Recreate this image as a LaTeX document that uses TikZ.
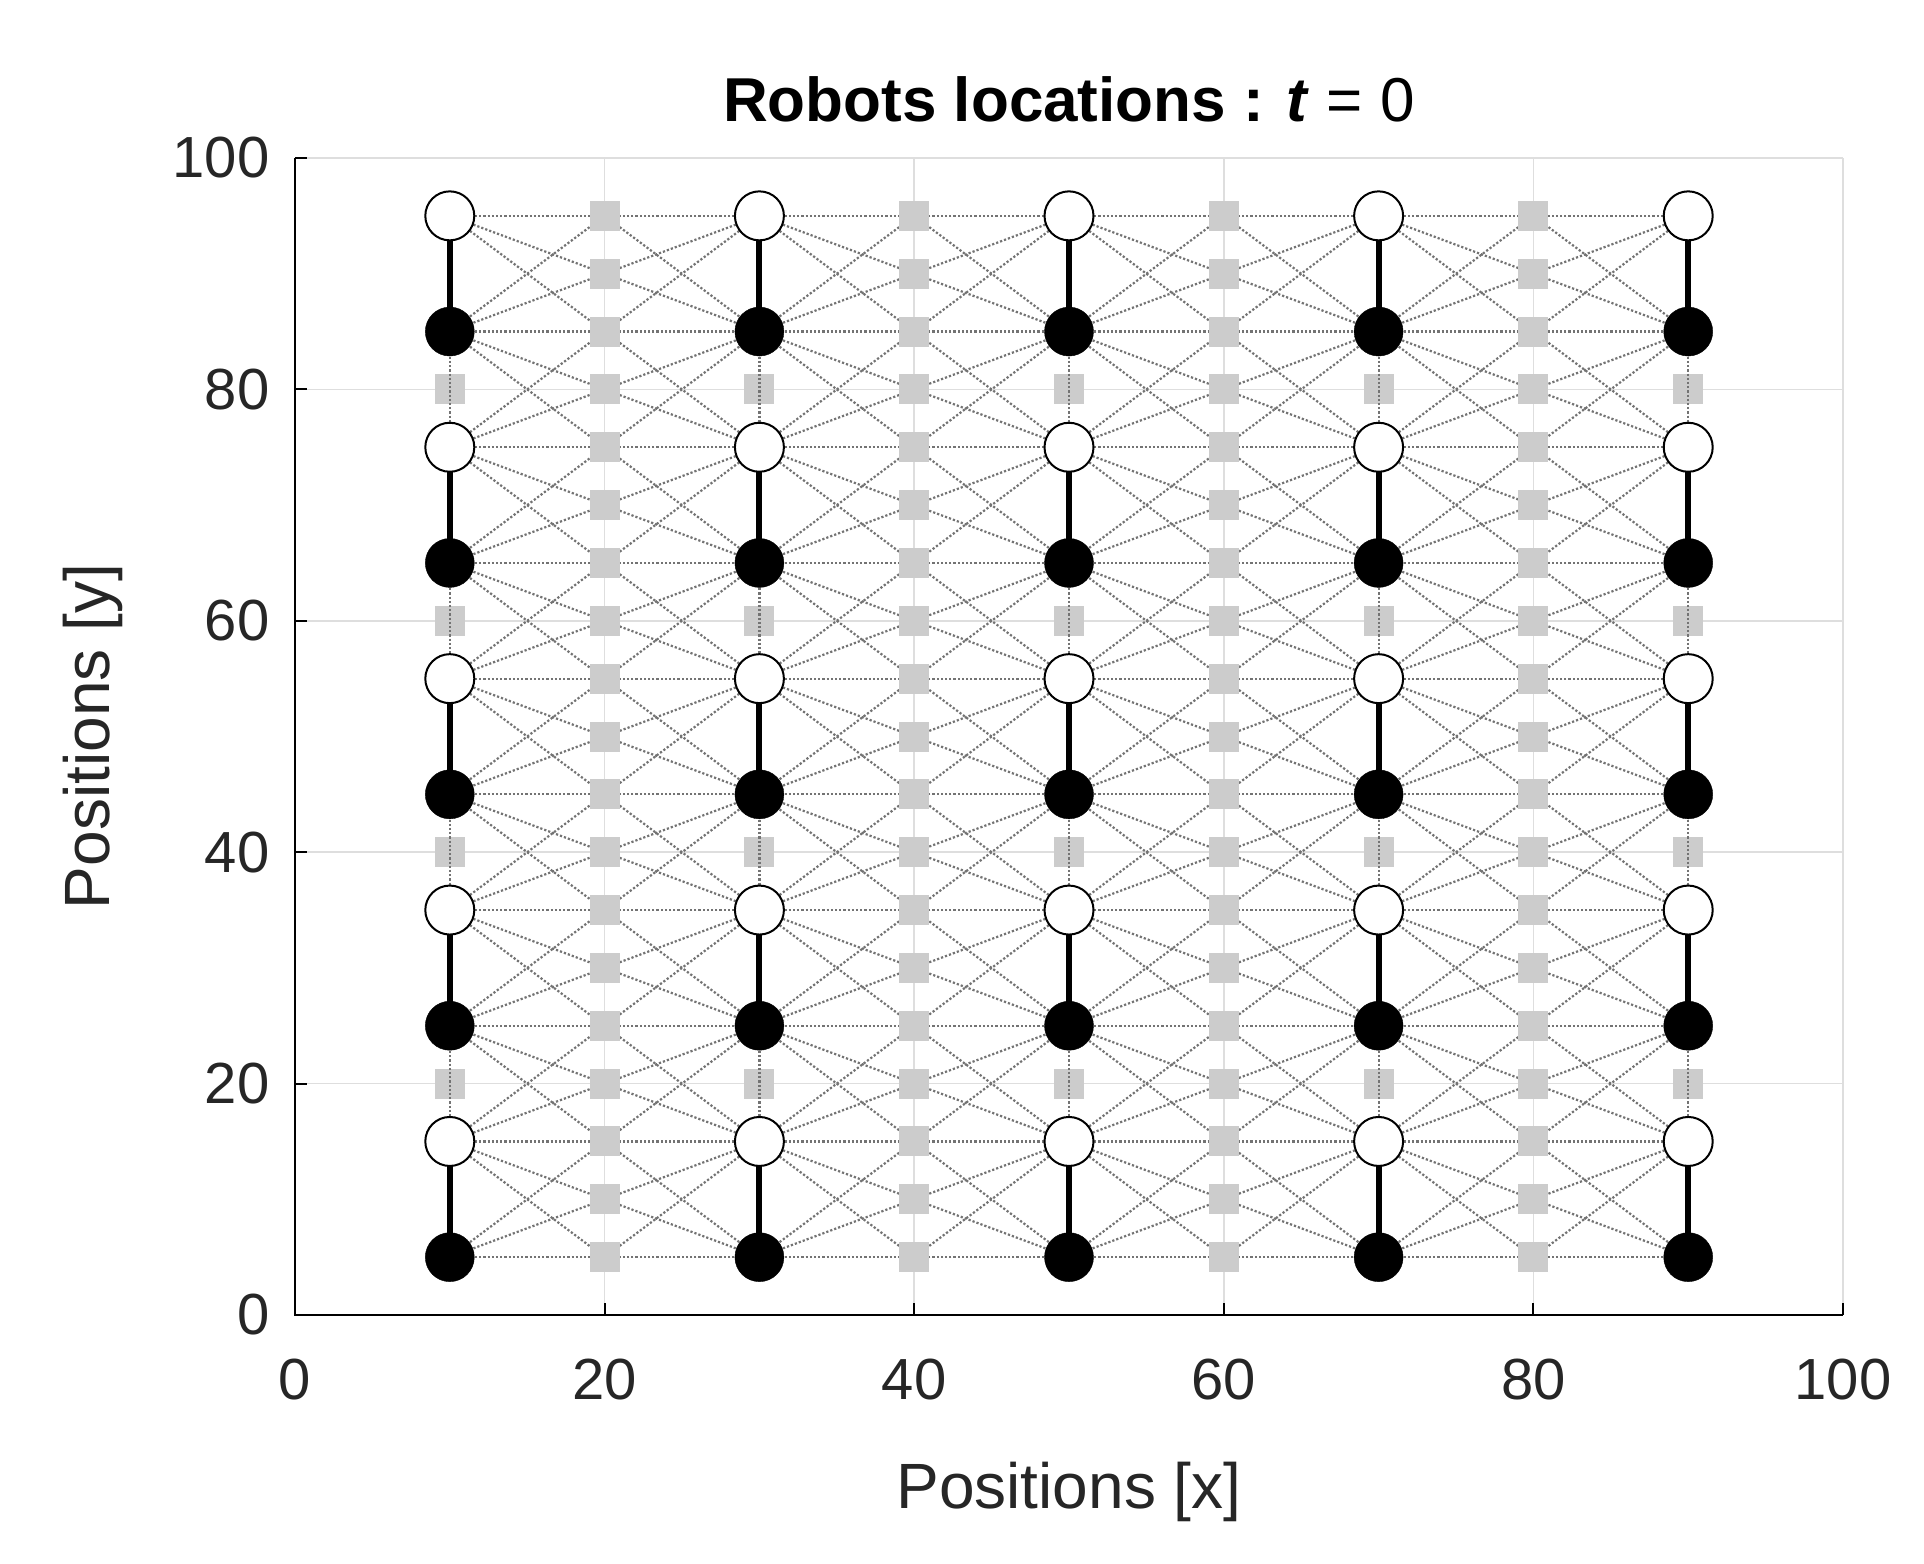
\documentclass[tikz,border=0pt]{standalone}
\usepackage{fontspec}
\setmainfont{Liberation Sans}
\begin{document}
\begin{tikzpicture}[x=1pt,y=-1pt,
  wc/.style={circle,draw=black,fill=white,line width=2pt,minimum size=49pt,inner sep=0pt},
  bc/.style={circle,draw=black,fill=black,minimum size=49pt,inner sep=0pt},
  sq/.style={rectangle,fill=black!20,minimum size=30pt,inner sep=0pt},
  lnk/.style={draw=black!55,dotted,line width=2.2pt},
  rod/.style={draw=black,line width=6pt},
  grd/.style={draw=black!13,line width=1.5pt},
  tick/.style={font=\fontsize{58}{60}\selectfont,text=black!85}]
\useasboundingbox (0,0) rectangle (1924,1563);
\fill[white] (0,0) rectangle (1924,1563);
\def\X#1{295+15.48*(#1)}
\def\Y#1{1315-11.57*(#1)}
% grid
\foreach \v in {20,40,60,80,100}{
  \draw[grd] ({\X{\v}},{\Y{0}}) -- ({\X{\v}},{\Y{100}});
  \draw[grd] ({\X{0}},{\Y{\v}}) -- ({\X{100}},{\Y{\v}});}
\draw[line width=2pt] ({\X{0}},{\Y{100}}) -- ({\X{0}},{\Y{0}}) -- ({\X{100}},{\Y{0}});
\foreach \v in {0,20,...,100}{
  \draw[line width=2pt] ({\X{\v}},{\Y{0}}) -- ({\X{\v}},{\Y{0}-12});
  \draw[line width=2pt] ({\X{0}},{\Y{\v}}) -- ({\X{0}+12},{\Y{\v}});
  \node[tick,anchor=north] (xt\v) at ({\X{\v}},{\Y{0}+40}) {\v};
  \node[tick,anchor=east] (yt\v) at ({\X{0}-22},{\Y{\v}}) {\v};}
\node[font=\fontsize{62}{64}\selectfont\bfseries] (title) at ({\X{50}},99) {Robots locations : \textit{t} \textmd{= 0}};
\node[tick,font=\fontsize{64}{66}\selectfont] (xl) at ({\X{50}},1492) {Positions [x]};
\node[tick,font=\fontsize{64}{66}\selectfont,rotate=90] (yl) at (93,{\Y{50}}) {Positions [y]};
% coordinates of robots and squares
\foreach \c in {10,30,50,70,90}{
  \foreach \yy in {5,15,...,95}{\coordinate (r\c-\yy) at ({\X{\c}},{\Y{\yy}});}
  \foreach \yy in {20,40,60,80}{\coordinate (v\c-\yy) at ({\X{\c}},{\Y{\yy}});}}
\foreach \c in {20,40,60,80}{
  \foreach \yy in {5,10,...,95}{\coordinate (s\c-\yy) at ({\X{\c}},{\Y{\yy}});}}
% dotted links
\foreach \c/\l/\r in {10/0/20,30/20/40,50/40/60,70/60/80,90/80/0}{
  \foreach \yy in {5,15,...,95}{
    \foreach \d in {-10,-5,0,5,10}{
      \pgfmathtruncatemacro{\t}{\yy+\d}
      \ifnum\t>0 \ifnum\t<100
        \ifnum\l>0 \draw[lnk] (r\c-\yy) -- (s\l-\t); \fi
        \ifnum\r>0 \draw[lnk] (r\c-\yy) -- (s\r-\t); \fi
      \fi\fi}}}
% squares
\foreach \c in {20,40,60,80}{\foreach \yy in {5,10,...,95}{\node[sq] (q\c-\yy) at (s\c-\yy) {};}}
\foreach \c in {10,30,50,70,90}{\foreach \yy in {20,40,60,80}{\node[sq] (p\c-\yy) at (v\c-\yy) {};}
  \foreach \a/\b in {85/75,65/55,45/35,25/15}{\draw[lnk] (r\c-\a) -- (r\c-\b);}}
% robots
\foreach \c in {10,30,50,70,90}{
  \foreach \w/\b in {95/85,75/65,55/45,35/25,15/5}{
    \draw[rod] (r\c-\w) -- (r\c-\b);
    \node[wc] (w\c-\w) at (r\c-\w) {};
    \node[bc] (b\c-\b) at (r\c-\b) {};}}
\end{tikzpicture}
\end{document}
